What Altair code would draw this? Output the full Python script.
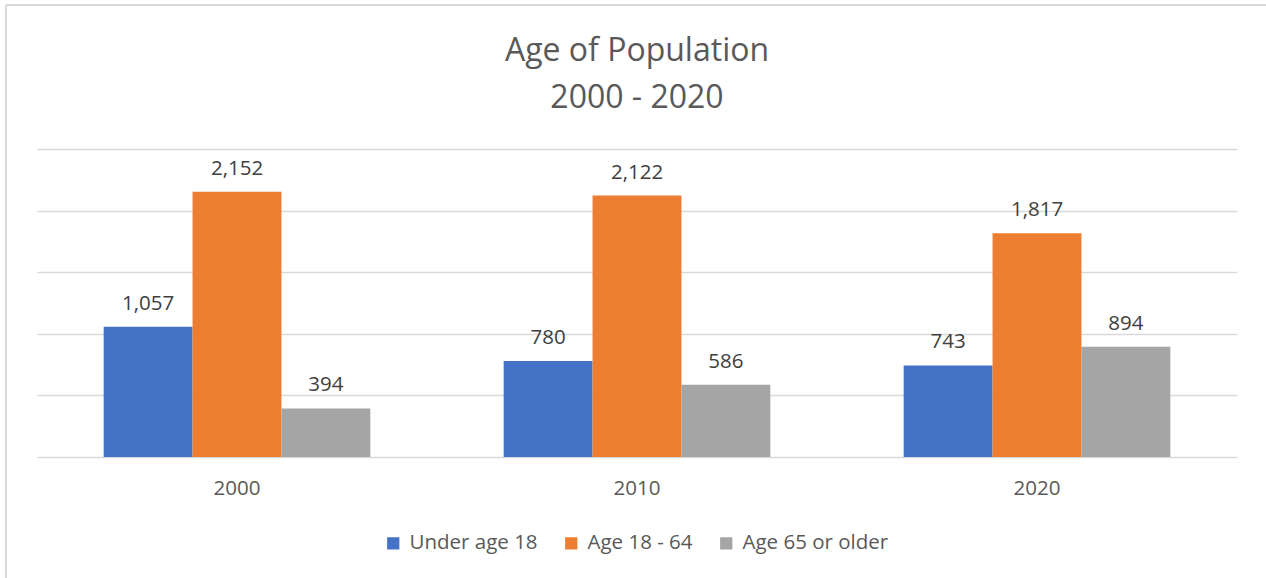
import altair as alt
import pandas as pd

years = ["2000", "2010", "2020"]
groups = ["Under age 18", "Age 18 - 64", "Age 65 or older"]
colors = ["#4472C4", "#ED7D31", "#A5A5A5"]
under18 = [1057, 780, 743]
age18_64 = [2152, 2122, 1817]
age65 = [394, 586, 894]
y_ticks = [0, 500, 1000, 1500, 2000, 2500]

rows = []
for i, yr in enumerate(years):
    for g, vals in zip(groups, [under18, age18_64, age65]):
        rows.append({"year": yr, "group": g, "value": vals[i], "label": f"{vals[i]:,}"})
df = pd.DataFrame(rows)

W, H = 1200, 308
FONT = "Open Sans"
FS = 20.5

x_enc = alt.X("year:N", sort=years,
              scale=alt.Scale(paddingInner=1/3, paddingOuter=1/6),
              axis=alt.Axis(title=None, labelAngle=0, domain=False, ticks=False,
                            labelFontSize=FS, labelColor="#595959", labelFont=FONT,
                            labelPadding=21))
y_enc = alt.Y("value:Q", scale=alt.Scale(domain=[0, 2500], nice=False),
              axis=alt.Axis(title=None, values=y_ticks, labels=False, ticks=False,
                            domain=False, grid=True, gridColor="#D9D9D9", gridWidth=1.5))
xoff = alt.XOffset("group:N", sort=groups, scale=alt.Scale(paddingInner=0, paddingOuter=0))

base = alt.Chart(df)
bars = base.mark_bar().encode(
    x=x_enc, y=y_enc, xOffset=xoff,
    color=alt.Color("group:N", sort=groups,
                    scale=alt.Scale(domain=groups, range=colors),
                    legend=alt.Legend(title=None, orient="none", direction="horizontal",
                                      legendX=346, legendY=384,
                                      symbolType="square", symbolSize=150, symbolStrokeWidth=0,
                                      labelFontSize=FS, labelColor="#595959", labelFont=FONT,
                                      columnPadding=23, labelOffset=6)),
)
labels = base.mark_text(fontSize=FS, color="#404040", font=FONT, baseline="alphabetic", dy=-17).encode(
    x=x_enc, y=alt.Y("value:Q"), xOffset=xoff, text="label:N"
)

frame_data = alt.Data(values=[{"a": 1}])
left_border = alt.Chart(frame_data).mark_rule(color="#D9D9D9", strokeWidth=2, clip=False).encode(
    x=alt.value(-31), x2=alt.value(-31), y=alt.value(-144), y2=alt.value(H + 121)
)
top_border = alt.Chart(frame_data).mark_rule(color="#D9D9D9", strokeWidth=2, clip=False).encode(
    x=alt.value(-31), x2=alt.value(W + 29), y=alt.value(-144), y2=alt.value(-144)
)

chart = alt.layer(bars, labels, left_border, top_border).properties(
    width=W, height=H,
    background="white",
    autosize=alt.AutoSizeParams(type="none"),
    padding={"left": 37, "top": 149, "right": 29, "bottom": 121},
    title=alt.TitleParams(text=["Age of Population", "2000 - 2020"], fontSize=32,
                          font=FONT, color="#595959", fontWeight="normal",
                          lineHeight=47, anchor="middle", offset=0, dy=111),
).configure_view(strokeWidth=0)

chart.save("out.html", embed_options={"renderer": "svg", "actions": False})
